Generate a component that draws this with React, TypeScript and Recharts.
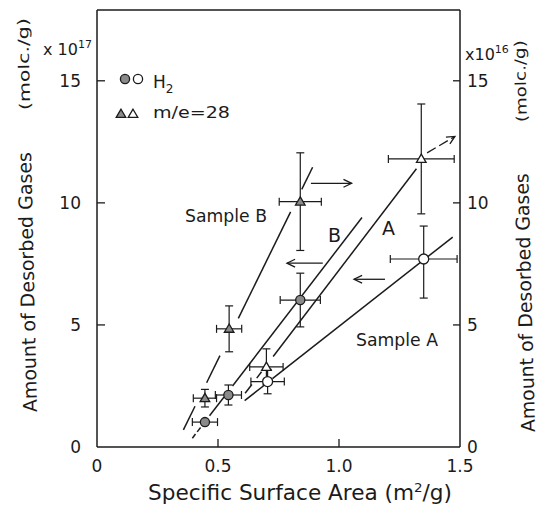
import React from "react";
import { ComposedChart, Scatter, XAxis, YAxis, ErrorBar, ReferenceLine } from "recharts";

const INK = "#1b1b1b";
const GRAY = "#8a8a8a";
const FONT = "'DejaVu Sans', 'Liberation Sans', sans-serif";

const xTicks = [0, 0.5, 1.0, 1.5];
const xTickLabels = ["0", "0.5", "1.0", "1.5"];
const topTicks = [0.5, 1.0];
const yTicks = [0, 5, 10, 15];
const xDomain = [0, 1.5];
const yDomain = [0, 17.9];

// H2 – sample B (filled circles)
const h2SampleBX = [0.446, 0.543, 0.84];
const h2SampleBY = [1.02, 2.13, 6.02];
const h2SampleBErrX = [0.052, 0.054, 0.083];
const h2SampleBErrY = [0, 0.41, 1.1];

// H2 – sample A (open circles)
const h2SampleAX = [0.705, 1.35];
const h2SampleAY = [2.68, 7.7];
const h2SampleAErrX = [0.069, 0.138];
const h2SampleAErrY = [[0.5, 0.5], [1.6, 1.35]];

// m/e=28 – sample B (filled triangles)
const m28SampleBX = [0.446, 0.546, 0.84];
const m28SampleBY = [2.0, 4.84, 10.05];
const m28SampleBErrX = [0.048, 0.052, 0.087];
const m28SampleBErrY = [0.36, 0.94, 2.0];

// m/e=28 – sample A (open triangles)
const m28SampleAX = [0.7, 1.34];
const m28SampleAY = [3.28, 11.8];
const m28SampleAErrX = [0.069, 0.136];
const m28SampleAErrY = [0.74, 2.25];

// fitted lines, drawn as the broken pieces seen in the figure
const fitSampleBSegX = [[0.357, 0.405], [0.453, 0.508], [0.584, 0.8], [0.846, 0.891]];
const fitSampleBSegY = [[0.7, 1.67], [2.63, 3.74], [5.27, 9.63], [10.55, 11.46]];
const fitBSegX = [[0.394, 0.407], [0.414, 0.428], [0.465, 0.525], [0.56, 1.095]];
const fitBSegY = [[0.36, 0.53], [0.62, 0.8], [1.28, 2.05], [2.5, 9.4]];
const fitASegX = [[0.612, 0.64], [0.66, 0.68], [0.728, 1.32]];
const fitASegY = [[2.2, 2.56], [2.82, 3.08], [3.71, 11.4]];
const fitSampleASegX = [[0.61, 0.69], [0.725, 1.47]];
const fitSampleASegY = [[1.9, 2.52], [2.8, 8.6]];

// arrows pointing to the axis used
const arrowFromX = [0.884, 0.933, 1.19, 1.364];
const arrowFromY = [10.8, 7.53, 6.87, 12.05];
const arrowToX = [1.052, 0.785, 1.062, 1.479];
const arrowToY = [10.8, 7.53, 6.87, 12.72];
const arrowDashed = [false, false, false, true];

const pts = (xs: number[], ys: number[], exs: any[], eys: any[]) =>
  xs.map((x, i) => ({ x, y: ys[i], ex: exs[i], ey: eys[i] }));
const segs = (xs: number[][], ys: number[][]) =>
  xs.map((pair, i) => pair.map((x, j) => ({ x, y: ys[i][j] })));

const h2B = pts(h2SampleBX, h2SampleBY, h2SampleBErrX, h2SampleBErrY);
const h2A = pts(h2SampleAX, h2SampleAY, h2SampleAErrX, h2SampleAErrY);
const m28B = pts(m28SampleBX, m28SampleBY, m28SampleBErrX, m28SampleBErrY);
const m28A = pts(m28SampleAX, m28SampleAY, m28SampleAErrX, m28SampleAErrY);

const fitPieces = [
  ...segs(fitSampleBSegX, fitSampleBSegY),
  ...segs(fitBSegX, fitBSegY),
  ...segs(fitASegX, fitASegY),
  ...segs(fitSampleASegX, fitSampleASegY),
];

const tri = (cx: number, cy: number) =>
  `${cx},${cy - 4.8} ${cx - 4.8},${cy + 3.4} ${cx + 4.8},${cy + 3.4}`;

const FilledCircle = (p: any) => (
  <circle cx={p.cx} cy={p.cy} r={4.6} fill={GRAY} stroke={INK} strokeWidth={1.3} />
);
const OpenCircle = (p: any) => (
  <circle cx={p.cx} cy={p.cy} r={5} fill="#fff" stroke={INK} strokeWidth={1.3} />
);
const FilledTri = (p: any) => (
  <polygon points={tri(p.cx, p.cy)} fill={GRAY} stroke={INK} strokeWidth={1.3} />
);
const OpenTri = (p: any) => (
  <polygon points={tri(p.cx, p.cy)} fill="#fff" stroke={INK} strokeWidth={1.3} />
);
const NoDot = () => <g />;

const Arrow = (props: any) => {
  const { x1, y1, x2, y2, dashed } = props;
  const a = Math.atan2(y2 - y1, x2 - x1);
  const L = 9;
  const s = 0.45;
  const p1 = [x2 - L * Math.cos(a - s), y2 - L * Math.sin(a - s)];
  const p2 = [x2 - L * Math.cos(a + s), y2 - L * Math.sin(a + s)];
  return (
    <g>
      <line x1={x1} y1={y1} x2={x2} y2={y2} stroke={INK} strokeWidth={1.3} strokeDasharray={dashed ? "10 4" : undefined} />
      <polyline points={`${p1[0]},${p1[1]} ${x2},${y2} ${p2[0]},${p2[1]}`} fill="none" stroke={INK} strokeWidth={1.3} />
    </g>
  );
};

const LeftTick = (p: any) => {
  const v = p.payload.value;
  const ax = p.x + 16;
  return (
    <g>
      {v !== 0 && <line x1={ax} x2={ax + 8} y1={p.y} y2={p.y} stroke={INK} strokeWidth={1.3} />}
      <text x={p.x} y={p.y} textAnchor="end" dominantBaseline="central" fontSize={17} fontFamily={FONT} fill={INK}>
        {v}
      </text>
    </g>
  );
};

const RightTick = (p: any) => {
  const v = p.payload.value;
  const ax = p.x - 7;
  return (
    <g>
      {v !== 0 && <line x1={ax} x2={ax - 7} y1={p.y} y2={p.y} stroke={INK} strokeWidth={1.3} />}
      <text x={p.x} y={p.y} textAnchor="start" dominantBaseline="central" fontSize={17} fontFamily={FONT} fill={INK}>
        {v}
      </text>
    </g>
  );
};

const BottomTick = (p: any) => {
  const v = p.payload.value;
  const ay = p.y - 13;
  const idx = xTicks.indexOf(v);
  return (
    <g>
      {v !== 0 && v !== 1.5 && <line x1={p.x} x2={p.x} y1={ay} y2={ay - 8} stroke={INK} strokeWidth={1.3} />}
      <text x={p.x} y={p.y} dy="0.72em" textAnchor="middle" fontSize={17} fontFamily={FONT} fill={INK}>
        {idx >= 0 ? xTickLabels[idx] : v}
      </text>
    </g>
  );
};

const TopTick = (p: any) => (
  <line x1={p.x} x2={p.x} y1={p.y} y2={p.y + 9} stroke={INK} strokeWidth={1.3} />
);

const axisLine = { stroke: INK, strokeWidth: 1.5 };

export default function App() {
  return (
    <div style={{ position: "relative", width: 537, height: 499 }}>
      <ComposedChart width={537} height={499} margin={{ top: 1, right: 0, bottom: 0, left: 0 }}>
        <XAxis
          xAxisId="b"
          dataKey="x"
          type="number"
          domain={xDomain}
          ticks={xTicks}
          interval={0}
          height={60}
          tickSize={0}
          tickMargin={13}
          tickLine={false}
          axisLine={axisLine}
          tick={(p: any) => <BottomTick {...p} />}
          allowDataOverflow
        />
        <XAxis
          xAxisId="t"
          orientation="top"
          type="number"
          domain={xDomain}
          ticks={topTicks}
          interval={0}
          height={1}
          tickSize={0}
          tickMargin={0}
          tickLine={false}
          axisLine={axisLine}
          tick={(p: any) => <TopTick {...p} />}
          allowDataOverflow
        />
        <YAxis
          yAxisId="l"
          dataKey="y"
          type="number"
          domain={yDomain}
          ticks={yTicks}
          interval={0}
          width={89}
          tickSize={0}
          tickMargin={16}
          tickLine={false}
          axisLine={axisLine}
          tick={(p: any) => <LeftTick {...p} />}
          allowDataOverflow
        />
        <YAxis
          yAxisId="r"
          orientation="right"
          dataKey="y"
          type="number"
          domain={yDomain}
          ticks={yTicks}
          interval={0}
          width={85}
          tickSize={0}
          tickMargin={7}
          tickLine={false}
          axisLine={axisLine}
          tick={(p: any) => <RightTick {...p} />}
          allowDataOverflow
        />

        {fitPieces.map((d, i) => (
          <Scatter
            key={"fit" + i}
            data={d}
            xAxisId="b"
            yAxisId="l"
            line={{ stroke: INK, strokeWidth: 1.5 }}
            shape={NoDot}
            isAnimationActive={false}
          />
        ))}

        {arrowFromX.map((x, i) => (
          <ReferenceLine
            key={"arr" + i}
            xAxisId="b"
            yAxisId="l"
            segment={[
              { x, y: arrowFromY[i] },
              { x: arrowToX[i], y: arrowToY[i] },
            ]}
            shape={(p: any) => <Arrow {...p} dashed={arrowDashed[i]} />}
          />
        ))}

        <Scatter data={h2B} xAxisId="b" yAxisId="l" shape={FilledCircle} isAnimationActive={false}>
          <ErrorBar dataKey="ex" direction="x" width={4} stroke={INK} strokeWidth={1.2} />
          <ErrorBar dataKey="ey" direction="y" width={4} stroke={INK} strokeWidth={1.2} />
        </Scatter>
        <Scatter data={h2A} xAxisId="b" yAxisId="l" shape={OpenCircle} isAnimationActive={false}>
          <ErrorBar dataKey="ex" direction="x" width={4} stroke={INK} strokeWidth={1.2} />
          <ErrorBar dataKey="ey" direction="y" width={4} stroke={INK} strokeWidth={1.2} />
        </Scatter>
        <Scatter data={m28B} xAxisId="b" yAxisId="r" shape={FilledTri} isAnimationActive={false}>
          <ErrorBar dataKey="ex" direction="x" width={4} stroke={INK} strokeWidth={1.2} />
          <ErrorBar dataKey="ey" direction="y" width={4} stroke={INK} strokeWidth={1.2} />
        </Scatter>
        <Scatter data={m28A} xAxisId="b" yAxisId="r" shape={OpenTri} isAnimationActive={false}>
          <ErrorBar dataKey="ex" direction="x" width={4} stroke={INK} strokeWidth={1.2} />
          <ErrorBar dataKey="ey" direction="y" width={4} stroke={INK} strokeWidth={1.2} />
        </Scatter>
      </ComposedChart>

      <svg
        width={537}
        height={499}
        style={{ position: "absolute", left: 0, top: 0, pointerEvents: "none" }}
        fontFamily={FONT}
        fill={INK}
      >
        {/* exponent labels */}
        <text x={35} y={47} fontSize={16}>
          x 10<tspan fontSize={11} dy={-7}>17</tspan>
        </text>
        <text x={457} y={52} fontSize={16}>
          x10<tspan fontSize={11} dy={-7}>16</tspan>
        </text>

        {/* legend */}
        <circle cx={117} cy={71} r={4.6} fill={GRAY} stroke={INK} strokeWidth={1.3} />
        <circle cx={130} cy={71} r={4.6} fill="#fff" stroke={INK} strokeWidth={1.3} />
        <text x={145} y={80} fontSize={17}>
          H<tspan fontSize={12} dy={5}>2</tspan>
        </text>
        <polygon points={tri(113, 106)} fill={GRAY} stroke={INK} strokeWidth={1.3} />
        <polygon points={tri(125, 106)} fill="#fff" stroke={INK} strokeWidth={1.3} />
        <text x={145} y={110} fontSize={16} textLength={77} lengthAdjust="spacingAndGlyphs">
          m/e=28
        </text>

        {/* annotations */}
        <text x={177} y={214} fontSize={17} textLength={82} lengthAdjust="spacingAndGlyphs">
          Sample B
        </text>
        <text x={320} y={234} fontSize={19}>B</text>
        <text x={374} y={227} fontSize={19}>A</text>
        <text x={348} y={338} fontSize={17} textLength={82} lengthAdjust="spacingAndGlyphs">
          Sample A
        </text>

        {/* x title */}
        <text x={140} y={492} fontSize={21} textLength={304} lengthAdjust="spacingAndGlyphs">
          Specific Surface Area (m<tspan fontSize={13} dy={-8}>2</tspan>
          <tspan dy={8}>/g)</tspan>
        </text>

        {/* left title */}
        <g transform="translate(29,404) rotate(-91.3)">
          <text x={0} y={0} fontSize={19} textLength={260} lengthAdjust="spacingAndGlyphs">
            Amount of Desorbed Gases
          </text>
          <text x={302} y={0} fontSize={15} textLength={92} lengthAdjust="spacingAndGlyphs">
            (molc./g)
          </text>
        </g>

        {/* right title */}
        <g transform="translate(527,424) rotate(-91.5)">
          <text x={0} y={0} fontSize={19} textLength={259} lengthAdjust="spacingAndGlyphs">
            Amount of Desorbed Gases
          </text>
          <text x={310} y={0} fontSize={15} textLength={82} lengthAdjust="spacingAndGlyphs">
            (molc./g)
          </text>
        </g>
      </svg>
    </div>
  );
}
